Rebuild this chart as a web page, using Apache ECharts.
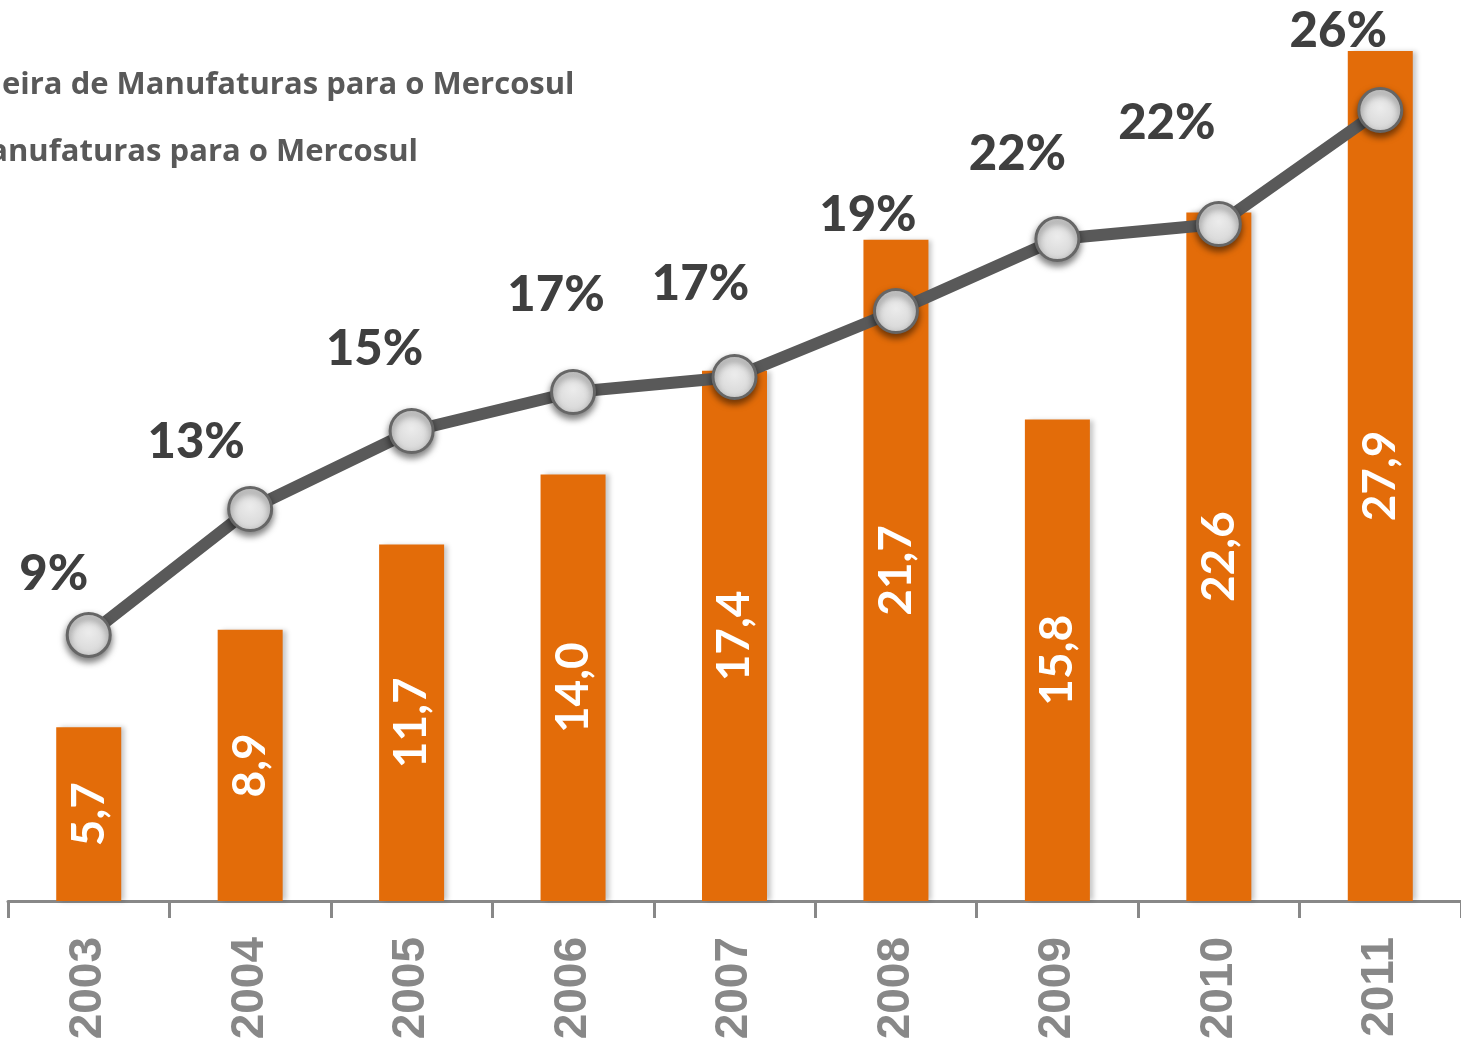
<!DOCTYPE html>
<html>
<head>
<meta charset="utf-8">
<script src="https://cdn.jsdelivr.net/npm/echarts@6/dist/echarts.min.js"></script>
<style>
  html, body { margin: 0; padding: 0; background: #fff; }
  #chart { width: 1461px; height: 1044px; }
</style>
</head>
<body>
<div id="chart"></div>
<script>
// dados
var anos = ['2003', '2004', '2005', '2006', '2007', '2008', '2009', '2010', '2011'];
var exportacao = [5.7, 8.9, 11.7, 14.0, 17.4, 21.7, 15.8, 22.6, 27.9];
var participacao = [8.6, 12.8, 15.4, 16.7, 17.2, 19.4, 21.8, 22.3, 26.1];
var nomeBarras = 'Exportação Brasileira de Manufaturas para o Mercosul';
var nomeLinha = 'Exportação de Manufaturas para o Mercosul';

// deslocamento manual dos rótulos de % (como no Excel)
var deslocRotulo = [[-35, -61], [-54, -67], [-37, -82], [-17, -97], [-34, -93], [-28, -96], [-40, -85], [-52, -101], [-42, -79]];

function larguraTexto(s, font) {
    var ctx = document.createElement('canvas').getContext('2d');
    ctx.font = font;
    return ctx.measureText(s).width;
}
// tamanho da fonte da legenda para o trecho visível ocupar ~575px
var tamLegenda = Math.round(26 * 575 / larguraTexto('eira de Manufaturas para o Mercosul', 'bold 26px "Open Sans"'));
var fonteLegenda = 'bold ' + tamLegenda + 'px "Open Sans"';
// a legenda fica cortada à esquerda, como na figura
var legendaLeft = 2 - (25 + 5 + larguraTexto('Exportação Brasil', fonteLegenda)) - 6;

var myChart = echarts.init(document.getElementById('chart'));

var option = {
    backgroundColor: '#ffffff',
    animation: false,
    legend: {
        orient: 'vertical',
        left: legendaLeft,
        top: 62,
        itemGap: 31,
        itemWidth: 25,
        itemHeight: 14,
        textStyle: {
            fontFamily: 'Open Sans',
            fontWeight: 'bold',
            fontSize: tamLegenda,
            color: '#595959',
            lineHeight: 36
        },
        data: [nomeBarras, nomeLinha]
    },
    grid: {
        left: 8,
        right: -3,
        top: 0,
        bottom: 143,
        containLabel: false
    },
    xAxis: {
        type: 'category',
        data: anos,
        boundaryGap: true,
        axisLine: { lineStyle: { color: '#888888', width: 3 } },
        axisTick: { show: true, length: 17, lineStyle: { color: '#888888', width: 3 } },
        axisLabel: {
            rotate: 90,
            margin: 36,
            color: '#888888',
            fontFamily: 'Liberation Sans',
            fontWeight: 'bold',
            fontSize: 46
        }
    },
    yAxis: [
        { type: 'value', min: 0, max: 29.57, show: false, splitLine: { show: false } },
        { type: 'value', min: -0.27, max: 29.77, show: false, splitLine: { show: false } }
    ],
    series: [
        {
            name: nomeBarras,
            type: 'bar',
            yAxisIndex: 0,
            barWidth: 65,
            data: exportacao,
            itemStyle: {
                color: '#E36C09',
                shadowColor: 'rgba(0, 0, 0, 0.22)',
                shadowBlur: 5,
                shadowOffsetX: 4
            },
            label: {
                show: true,
                position: 'inside',
                rotate: 90,
                color: '#ffffff',
                fontFamily: 'Lato',
                fontWeight: 'bold',
                fontSize: 46,
                formatter: function (p) {
                    return p.value.toFixed(1).replace('.', ',');
                }
            }
        },
        {
            name: nomeLinha,
            type: 'line',
            yAxisIndex: 1,
            z: 5,
            symbol: 'circle',
            symbolSize: 43,
            lineStyle: { color: '#595959', width: 12 },
            itemStyle: {
                color: {
                    type: 'radial', x: 0.5, y: 0.45, r: 0.6,
                    colorStops: [
                        { offset: 0, color: '#ececec' },
                        { offset: 1, color: '#d2d2d2' }
                    ]
                },
                borderColor: '#666666',
                borderWidth: 3,
                shadowColor: 'rgba(0, 0, 0, 0.5)',
                shadowBlur: 7,
                shadowOffsetY: 4
            },
            label: {
                show: true,
                position: 'inside',
                color: '#3f3f3f',
                fontFamily: 'Lato',
                fontWeight: 900,
                fontSize: 49,
                formatter: function (p) {
                    return Math.round(p.value) + '%';
                }
            },
            data: participacao.map(function (v, i) {
                return { value: v, label: { offset: deslocRotulo[i] } };
            })
        }
    ]
};

myChart.setOption(option);
</script>
</body>
</html>
